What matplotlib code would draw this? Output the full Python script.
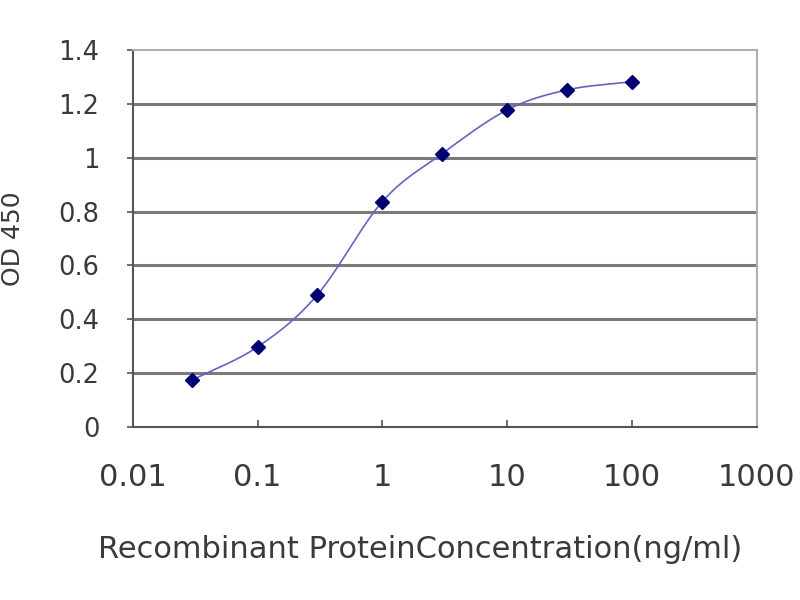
import numpy as np
import matplotlib.pyplot as plt

plt.rcParams['font.family'] = ['DejaVu Sans']

conc = [0.03, 0.1, 0.3, 1, 3, 10, 30, 100]  # ng/ml
od450 = [0.175, 0.298, 0.49, 0.837, 1.014, 1.177, 1.251, 1.282]
x_ticks = [0.01, 0.1, 1, 10, 100, 1000]
x_labels = ['0.01', '0.1', '1', '10', '100', '1000']
y_ticks = [0, 0.2, 0.4, 0.6, 0.8, 1, 1.2, 1.4]
y_labels = ['0', '0.2', '0.4', '0.6', '0.8', '1', '1.2', '1.4']


def smooth_curve(xs, ys, n=30):
    # Catmull-Rom im log-x Raum, wie die geglaettete Linie in Excel
    lx = np.log10(xs)
    py = np.array(ys, dtype=float)
    px = np.concatenate([[2 * lx[0] - lx[1]], lx, [2 * lx[-1] - lx[-2]]])
    py = np.concatenate([[2 * py[0] - py[1]], py, [2 * py[-1] - py[-2]]])
    out_x, out_y = [], []
    t = np.linspace(0, 1, n)
    for i in range(1, len(px) - 2):
        for arr, out in ((px, out_x), (py, out_y)):
            p0, p1, p2, p3 = arr[i - 1], arr[i], arr[i + 1], arr[i + 2]
            seg = 0.5 * (2 * p1 + (-p0 + p2) * t
                         + (2 * p0 - 5 * p1 + 4 * p2 - p3) * t**2
                         + (-p0 + 3 * p1 - 3 * p2 + p3) * t**3)
            out.extend(seg)
    return 10 ** np.array(out_x), np.array(out_y)


fig = plt.figure(figsize=(8, 6), dpi=100)
ax = fig.add_axes([0.166, 0.288, 0.78, 0.629])

sx, sy = smooth_curve(conc, od450)
ax.plot(sx, sy, color='#6464c4', lw=1.2, zorder=3)
ax.plot(conc, od450, linestyle='none', marker='D', markersize=7,
        color='#000070', zorder=4)

ax.set_xscale('log')
ax.set_xlim(0.01, 1000)
ax.set_ylim(0, 1.4)
ax.set_xticks(x_ticks)
ax.set_xticklabels(x_labels)
ax.minorticks_off()
ax.set_yticks(y_ticks)
ax.set_yticklabels(y_labels)

for y in y_ticks[1:-1]:
    ax.axhline(y, color='#7a7a7a', lw=2.2, zorder=1)

for side in ['left', 'bottom']:
    ax.spines[side].set_color('#555555')
    ax.spines[side].set_linewidth(1.5)
for side in ['top', 'right']:
    ax.spines[side].set_color('#b0b0b0')
    ax.spines[side].set_linewidth(1.5)

ax.tick_params(axis='x', direction='in', length=5, width=1.2, color='#555555',
               labelsize=22, labelcolor='#3a3a3a', pad=26)
ax.tick_params(axis='y', direction='out', length=4, width=1.2, color='#555555',
               labelsize=18.5, labelcolor='#3a3a3a', pad=20)

ax.set_xlabel('Recombinant ProteinConcentration(ng/ml)', fontsize=22,
              color='#3a3a3a')
ax.xaxis.set_label_coords(0.46, -0.285)
ax.set_ylabel('OD 450', fontsize=18, color='#3a3a3a', labelpad=24)

fig.savefig('out.png', dpi=100)
